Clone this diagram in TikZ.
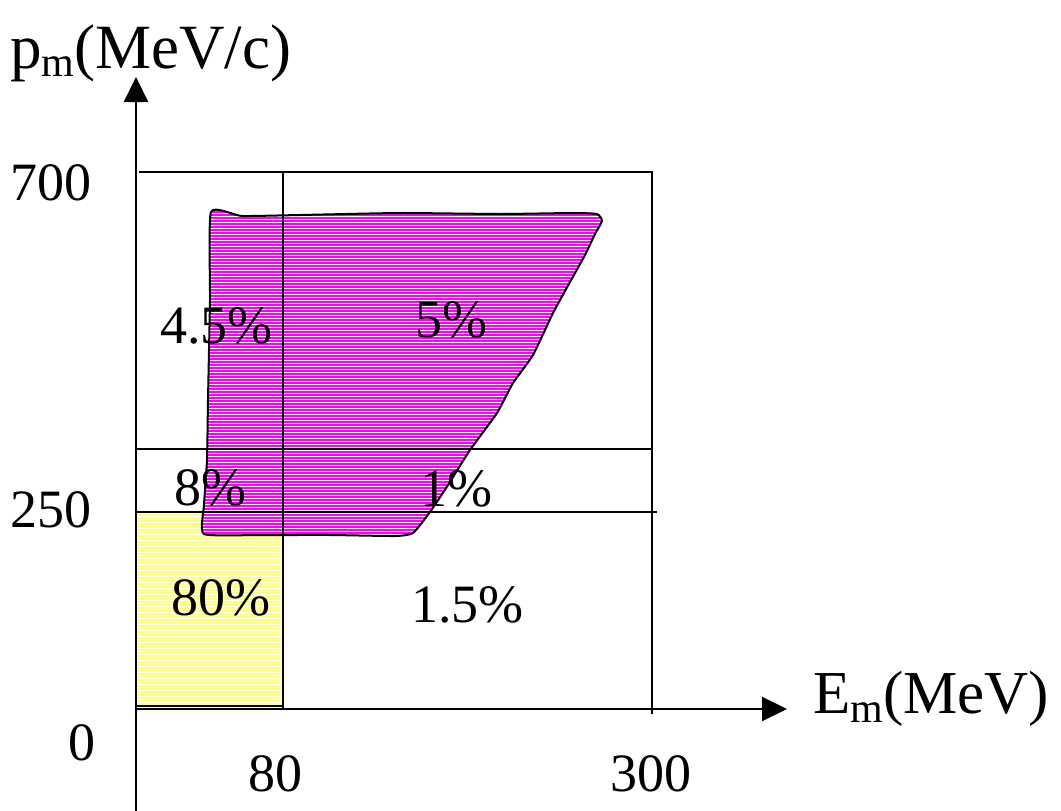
\documentclass[tikz,border=0pt]{standalone}
\usepackage{fontspec}
\setmainfont{Liberation Serif}
\usetikzlibrary{arrows.meta}
\definecolor{blobmag}{RGB}{255,0,255}
\definecolor{paleyel}{RGB}{255,255,130}
\tikzset{
  axisline/.style={line width=2.2pt,-{Triangle[length=25pt,width=24pt]}},
  gridline/.style={line width=2pt},
  num/.style={anchor=base west,inner sep=0pt,font=\fontsize{54}{60}\selectfont},
  axlab/.style={anchor=base west,inner sep=0pt},
  stripe/.style={white,line width=1pt}
}
\newcommand{\subm}[1]{\raisebox{-#1}{\fontsize{42}{46}\selectfont m}}
\begin{document}
\begin{tikzpicture}[x=1pt,y=-1pt]
\useasboundingbox (0,0) rectangle (1061,811);
% yellow region
\fill[paleyel] (136,512) rectangle (283,706);
\begin{scope}
\clip (136,512) rectangle (283,706);
\foreach \yy in {513,516,...,706} \draw[stripe] (130,\yy) -- (290,\yy);
\end{scope}
\draw[gridline] (136,512) rectangle (283,706);
% magenta blob
\def\blob{plot[smooth cycle,tension=0.3] coordinates {
 (211,212) (242,216) (300,215) (400,213) (500,214) (573,213) (597,214) (602,221)
 (595,234) (585,255) (570,282) (553,313) (533,355) (513,383) (497,413) (470,450)
 (448,485) (430,512) (413,533) (395,536) (330,535) (260,535) (204,534)
 (204,505) (207,460) (208,400) (210,300)}}
\fill[blobmag] \blob;
\begin{scope}
\clip \blob;
\foreach \yy in {210,213,...,540} \draw[stripe] (195,\yy) -- (610,\yy);
\end{scope}
\draw[line width=2pt,line join=round] \blob;
% grid
\coordinate (tl) at (139,172);
\coordinate (tr) at (652,172);
\coordinate (br) at (652,714);
\draw[gridline] (tl) -- (tr) -- (br);
\draw[gridline] (283,172) -- (283,709);
\draw[gridline] (136,449) -- (652,449);
\draw[gridline] (136,512) -- (657,512);
% axes
\coordinate (o) at (136,709);
\coordinate (ybot) at (136,811);
\coordinate (ytop) at (136,77);
\coordinate (xend) at (787,709);
\draw[axisline] (ybot) -- (ytop);
\draw[axisline] (o) -- (xend);
% labels
\node[axlab,font=\fontsize{63}{70}\selectfont] (plab) at (10,68) {p\subm{8pt}(MeV/c)};
\node[axlab,font=\fontsize{61}{68}\selectfont] (elab) at (813,713) {E\subm{9pt}(MeV)};
\node[num] (t700) at (10,200) {700};
\node[num] (t250) at (10,527) {250};
\node[num] (t0) at (68,760) {0};
\node[num] (t80) at (248,791) {80};
\node[num] (t300) at (610,791) {300};
\node[num] (p45) at (160,343) {4.5\%};
\node[num] (p5) at (415,337) {5\%};
\node[num] (p8) at (174,505) {8\%};
\node[num] (p1) at (420,506) {1\%};
\node[num] (p80) at (171,615) {80\%};
\node[num] (p15) at (411,622) {1.5\%};
\end{tikzpicture}
\end{document}
